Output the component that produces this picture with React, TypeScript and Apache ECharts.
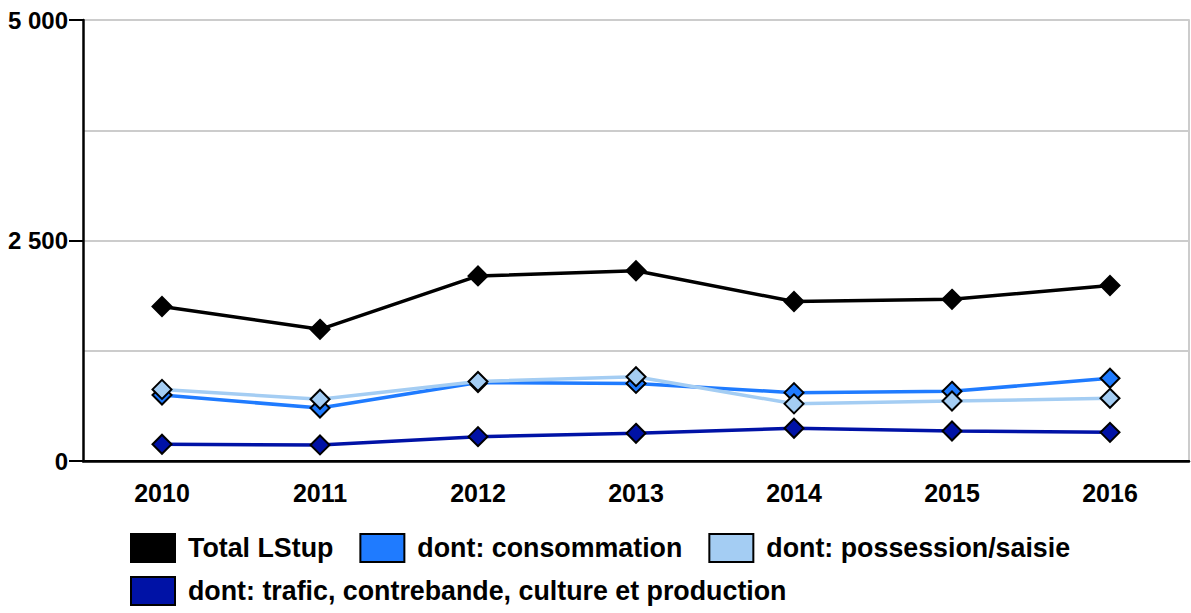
import React, { useEffect, useRef } from "react";
import * as echarts from "echarts";

const years = ["2010", "2011", "2012", "2013", "2014", "2015", "2016"];
const totalLStup = [1752, 1493, 2098, 2157, 1808, 1833, 1990];
const consommation = [748, 600, 890, 880, 775, 790, 938];
const possession = [812, 700, 902, 956, 648, 680, 711];
const trafic = [190, 182, 276, 314, 371, 340, 325];

const seriesNames = [
  "Total LStup",
  "dont: consommation",
  "dont: possession/saisie",
  "dont: trafic, contrebande, culture et production",
];
const seriesColors = ["#000000", "#1f7bff", "#a4cdf3", "#0012a6"];
const seriesData = [totalLStup, consommation, possession, trafic];

const FONT = "Liberation Sans, Arial, sans-serif";

function fmt(v: number) {
  const s = String(Math.round(v));
  return s.replace(/\B(?=(\d{3})+(?!\d))/g, " ");
}

export default function App() {
  const ref = useRef<HTMLDivElement>(null);
  useEffect(() => {
    if (!ref.current) return;
    const chart = echarts.init(ref.current, undefined, { renderer: "svg" });
    const legendCommon = {
      left: 130,
      orient: "horizontal",
      icon: "rect",
      itemWidth: 44,
      itemHeight: 28,
      itemGap: 26,
      textStyle: { fontFamily: FONT, fontWeight: "bold", fontSize: 26.8, color: "#000", padding: [0, 0, 0, 8] },
      itemStyle: { borderColor: "#000", borderWidth: 2 },
      padding: 0,
    };
    chart.setOption({
      animation: false,
      backgroundColor: "#fff",
      grid: { left: 83, right: 2, top: 20, bottom: 152, containLabel: false },
      legend: [
        { ...legendCommon, top: 533, data: seriesNames.slice(0, 3) },
        { ...legendCommon, top: 576, data: seriesNames.slice(3) },
      ],
      xAxis: [
        {
          type: "category",
          data: years,
          boundaryGap: true,
          position: "bottom",
          axisLine: { show: true, lineStyle: { color: "#000", width: 2 } },
          axisTick: { show: false },
          axisLabel: { fontFamily: FONT, fontWeight: "bold", fontSize: 25, color: "#000", margin: 19 },
          splitLine: { show: false },
        },
        {
          type: "category",
          data: years,
          position: "top",
          axisLine: { show: true, lineStyle: { color: "#000", width: 2.5 } },
          axisTick: { show: false },
          axisLabel: { show: false },
        },
      ],
      yAxis: [
        {
          type: "value",
          min: 0,
          max: 5000,
          interval: 2500,
          axisLine: { show: true, lineStyle: { color: "#000", width: 2.5 } },
          axisTick: { show: true, length: 14, lineStyle: { color: "#000", width: 2 } },
          axisLabel: {
            fontFamily: FONT,
            fontWeight: "bold",
            fontSize: 24,
            color: "#000",
            margin: 15,
            formatter: (v: number) => fmt(v),
          },
          splitLine: { show: true, lineStyle: { color: "#cccccc", width: 2 } },
          minorTick: { show: false, splitNumber: 2 },
          minorSplitLine: { show: true, lineStyle: { color: "#cccccc", width: 2 } },
        },
        {
          type: "value",
          min: 0,
          max: 5000,
          interval: 2500,
          position: "right",
          axisLine: { show: true, lineStyle: { color: "#cccccc", width: 2 } },
          axisTick: { show: false },
          axisLabel: { show: false },
          splitLine: { show: false },
        },
      ],
      series: seriesNames.map((name, i) => ({
        name,
        type: "line",
        data: seriesData[i],
        symbol: "diamond",
        symbolSize: 19,
        lineStyle: { color: seriesColors[i], width: 3.5 },
        itemStyle: { color: seriesColors[i], borderColor: "#000", borderWidth: 2 },
        emphasis: { disabled: true },
        z: 2 + i,
      })),
    });
    return () => chart.dispose();
  }, []);
  return (
    <div
      ref={ref}
      style={{ position: "absolute", left: 0, top: 0, width: 1191, height: 613 }}
    />
  );
}
